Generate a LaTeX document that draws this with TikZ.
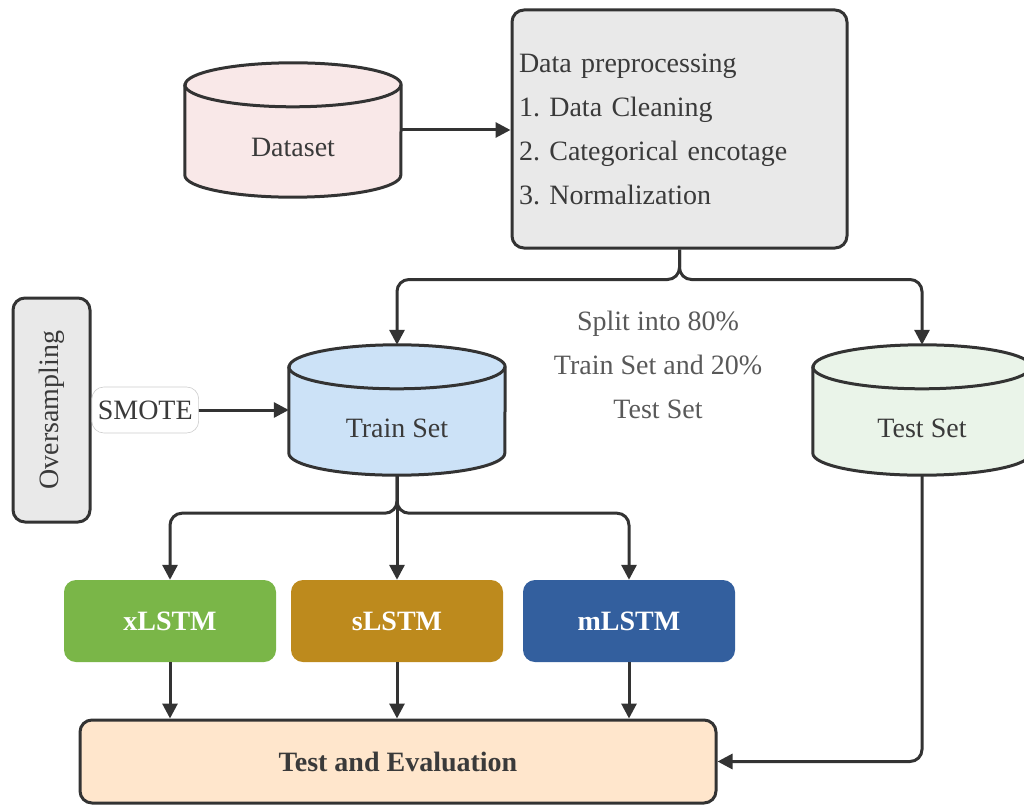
\documentclass[tikz,border=0pt]{standalone}
\usepackage{fontspec}
\setmainfont{Liberation Serif}
\frenchspacing
\usetikzlibrary{arrows.meta}
\definecolor{ln}{HTML}{333333}
\definecolor{txt}{HTML}{3A3A3A}
\definecolor{dsfill}{HTML}{F9E8E8}
\definecolor{grayfill}{HTML}{E9E9E9}
\definecolor{trfill}{HTML}{CCE2F7}
\definecolor{tefill}{HTML}{EAF4E9}
\definecolor{xcol}{HTML}{7AB648}
\definecolor{scol}{HTML}{BD8A1D}
\definecolor{mcol}{HTML}{335F9E}
\definecolor{evfill}{HTML}{FFE6CC}
\tikzset{
  base/.style={font=\fontsize{28}{44}\selectfont, text=txt},
  frame/.style={inner sep=0pt},
  cylline/.style={draw=ln, line width=3pt},
  gbox/.style={base, draw=ln, line width=3pt, fill=grayfill, rounded corners=12pt},
  model/.style={base, font=\fontsize{28}{34}\selectfont\bfseries, text=white, rounded corners=12pt, minimum width=212pt, minimum height=82pt, inner sep=0pt},
  conn/.style={draw=ln, line width=3pt, rounded corners=12pt},
  arr/.style={conn, -{Triangle[length=15pt,width=15pt]}},
  lbl/.style={base, inner sep=0pt}
}
\begin{document}
\begin{tikzpicture}[x=1pt,y=-1pt]
\useasboundingbox (0,0) rectangle (1024,805);

% Dataset cylinder
\node[frame, minimum width=216pt, minimum height=134pt] (ds) at (293,130) {};
\draw[cylline, fill=dsfill] ([yshift=-22pt]ds.north west) -- ([yshift=22pt]ds.south west)
  arc[start angle=180, end angle=360, x radius=108pt, y radius=22pt]
  -- ([yshift=-22pt]ds.north east)
  arc[start angle=0, end angle=180, x radius=108pt, y radius=22pt] -- cycle;
\draw[cylline] ([yshift=-22pt]ds.north west) arc[start angle=180, end angle=360, x radius=108pt, y radius=22pt];
\node[lbl] (dsl) at ([yshift=-17pt]ds.center) {Dataset};

% Preprocessing box
\node[gbox, text width=321pt, inner xsep=7pt, inner ysep=0pt, minimum height=238pt, align=left] (pre) at (679.5,129)
  {Data preprocessing\\1. Data Cleaning\\2. Categorical encotage\\3. Normalization};

% Train Set cylinder
\node[frame, minimum width=216pt, minimum height=130pt] (tr) at (397,410) {};
\draw[cylline, fill=trfill] ([yshift=-22pt]tr.north west) -- ([yshift=22pt]tr.south west)
  arc[start angle=180, end angle=360, x radius=108pt, y radius=22pt]
  -- ([yshift=-22pt]tr.north east)
  arc[start angle=0, end angle=180, x radius=108pt, y radius=22pt] -- cycle;
\draw[cylline] ([yshift=-22pt]tr.north west) arc[start angle=180, end angle=360, x radius=108pt, y radius=22pt];
\node[lbl] (trl) at ([yshift=-18pt]tr.center) {Train Set};

% Test Set cylinder
\node[frame, minimum width=218pt, minimum height=130pt] (ts) at (922,410) {};
\draw[cylline, fill=tefill] ([yshift=-22pt]ts.north west) -- ([yshift=22pt]ts.south west)
  arc[start angle=180, end angle=360, x radius=109pt, y radius=22pt]
  -- ([yshift=-22pt]ts.north east)
  arc[start angle=0, end angle=180, x radius=109pt, y radius=22pt] -- cycle;
\draw[cylline] ([yshift=-22pt]ts.north west) arc[start angle=180, end angle=360, x radius=109pt, y radius=22pt];
\node[lbl] (tsl) at ([yshift=-18pt]ts.center) {Test Set};

% Split label
\node[lbl, text=black!65, align=center] (split) at (658,365) {Split into 80\%\\Train Set and 20\%\\Test Set};

% Oversampling box
\node[gbox, minimum width=77pt, minimum height=224pt, inner sep=0pt] (ov) at (51.5,410) {\rotatebox{90}{Oversampling}};

% Models
\node[model, fill=xcol] (xl) at (170,621) {xLSTM};
\node[model, fill=scol] (sl) at (397,621) {sLSTM};
\node[model, fill=mcol] (ml) at (629,621) {mLSTM};

% Evaluation box
\node[gbox, fill=evfill, font=\fontsize{28}{34}\selectfont\bfseries, minimum width=636pt, minimum height=83pt, inner sep=0pt] (ev) at (398,761.5) {Test and Evaluation};

% Connectors
\draw[arr] (ds.east) -- (ds.east -| pre.west);
\draw[arr] (pre.south) -- ++(0,30) -| (tr.north);
\draw[arr] (pre.south) -- ++(0,30) -| (ts.north);
\draw[arr] (ov.east) -- (tr.west)
  node[pos=0, anchor=west, fill=white, draw=black!20, line width=0.6pt, base, inner xsep=6pt, minimum height=46pt] (smote) {SMOTE};
\draw[arr] (tr.south) -- ++(0,38) -| (xl.north);
\draw[arr] (tr.south) -- (sl.north);
\draw[arr] (tr.south) -- ++(0,38) -| (ml.north);
\draw[arr] (xl.south) -- (xl.south |- ev.north);
\draw[arr] (sl.south) -- (sl.south |- ev.north);
\draw[arr] (ml.south) -- (ml.south |- ev.north);
\draw[arr] (ts.south) |- (ev.east);
\end{tikzpicture}
\end{document}
